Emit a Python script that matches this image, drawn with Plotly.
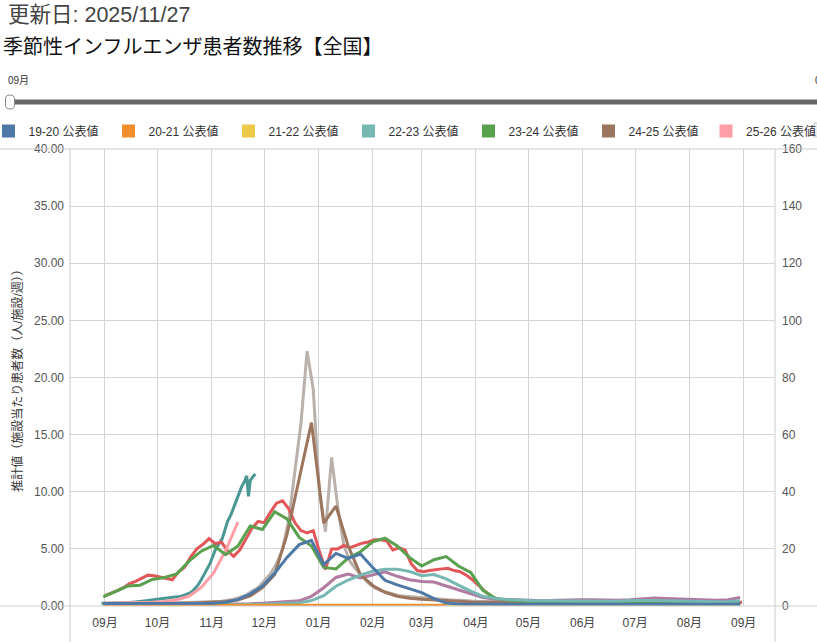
import pandas as pd
import plotly.graph_objects as go

# -- ----------------------------------------------------------------------------- textos -- #
update_text = "更新日: 2025/11/27"
title_text = "季節性インフルエンザ患者数推移【全国】"
y_title = "推計値（施設当たり患者数（人/施設/週））"
slider_label = "09月"

# -- ------------------------------------------------ 公表値 (週ごと, 右軸 0-160) -- #
names_pub = ["19-20 公表値", "20-21 公表値", "21-22 公表値", "22-23 公表値",
             "23-24 公表値", "24-25 公表値", "25-26 公表値"]
colors_pub = ["#4e79a7", "#f28e2b", "#edc948", "#76b7b2", "#59a14f", "#9c755f", "#ff9da7"]

s1920 = [0.9, 0.9, 0.9, 0.9, 1.0, 1.0, 0.9, 0.9, 0.9, 1.0,
         1.3, 2.3, 4.2, 7.0, 11.5, 17.0, 21.5, 23.0, 14.5, 18.4,
         16.7, 18.2, 13.5, 9.0, 7.4, 6.0, 4.7, 2.6, 1.0, 0.7,
         0.6, 0.6, 0.6, 0.6, 0.6, 0.6, 0.6, 0.6, 0.6, 0.6,
         0.6, 0.6, 0.6, 0.6, 0.6, 0.6, 0.6, 0.6, 0.6, 0.6,
         0.6, 0.6, 0.6]
s2021 = [0.3, 0.3, 0.35, 0.3, 0.3, 0.3, 0.3, 0.3, 0.3, 0.3,
         0.3, 0.3, 0.3, 0.3, 0.3, 0.3, 0.3, 0.3, 0.3, 0.3,
         0.3, 0.3, 0.3, 0.3, 0.3, 0.3, 0.3, 0.3, 0.3]
s2122 = [0.1, 0.1, 0.1, 0.1, 0.1, 0.1, 0.1, 0.1, 0.1, 0.1,
         0.1, 0.1, 0.1, 0.1, 0.1, 0.1, 0.1, 0.1, 0.1, 0.1,
         0.1, 0.1, 0.1, 0.1, 0.1, 0.1, 0.1, 0.1, 0.1, 0.1,
         0.1, 0.1, 0.1, 0.1, 0.1, 0.1, 0.1, 0.1, 0.1, 0.1,
         0.1, 0.1, 0.1, 0.1, 0.1, 0.1, 0.1, 0.1, 0.1, 0.1,
         0.1, 0.1, 0.1]
s2223 = [0.3, 0.3, 0.3, 0.3, 0.3, 0.3, 0.3, 0.3, 0.3, 0.35,
         0.4, 0.45, 0.5, 0.6, 0.7, 0.9, 1.1, 1.9, 3.6, 6.9,
         9.1, 10.8, 12.2, 12.9, 12.9, 12.1, 10.6, 11.0, 9.5, 7.3,
         5.2, 3.4, 2.6, 2.3, 2.0, 1.85, 1.8, 1.8, 1.7, 1.7,
         1.6, 1.6, 1.7, 1.9, 2.0, 1.9, 1.8, 1.7, 1.6, 1.5,
         1.5, 1.6, 1.8]
s2324 = [3.2, 5.0, 7.0, 7.3, 9.3, 10.0, 11.2, 15.7, 19.2, 21.2,
         18.0, 21.0, 28.0, 26.8, 33.0, 30.5, 24.0, 21.0, 13.5, 13.0,
         16.8, 19.0, 22.5, 23.8, 21.0, 17.0, 14.0, 16.2, 17.3, 14.0,
         11.8, 5.5, 2.7, 2.0, 1.7, 1.5, 1.3, 1.2, 1.1, 1.0,
         1.0, 0.9, 0.9, 0.9, 0.9, 0.9, 0.8, 0.8, 0.8, 0.8,
         0.8, 0.8, 0.8]
s2425 = [0.8, 0.8, 0.8, 0.8, 0.8, 0.8, 0.9, 1.0, 1.1, 1.3,
         1.6, 2.1, 3.5, 6.4, 11.0, 25.0, 45.0, 64.2, 29.0, 35.0,
         21.0, 11.0, 7.2, 4.8, 3.4, 2.7, 2.4, 2.1, 1.8, 1.6,
         1.4, 1.3, 1.2, 1.2, 1.1, 1.1, 1.0, 1.0, 1.0, 1.0,
         1.0, 1.0, 1.0, 1.0, 1.0, 1.0, 1.0, 1.0, 1.0, 1.0,
         1.0, 1.0, 1.0]
s2526 = [1.0, 1.0, 1.1, 1.2, 1.3, 1.6, 2.2, 3.4, 6.5, 11.5,
         19.5, 29.5]

# -- ------------------------------------------------------- 推計値 (左軸 0-40) -- #
names_est = ["22-23 推計値", "23-24 推計値", "24-25 推計値", "25-26 推計値"]
colors_est = ["#b07aa1", "#e15759", "#bab0ac", "#499894"]

# semanal
e2223 = [0.15, 0.15, 0.15, 0.15, 0.15, 0.15, 0.15, 0.15, 0.15, 0.2,
         0.2, 0.2, 0.2, 0.25, 0.3, 0.35, 0.45, 0.85, 1.6, 2.5,
         2.8, 2.45, 2.7, 3.0, 2.6, 2.3, 2.15, 2.1, 1.75, 1.4,
         1.1, 0.75, 0.6, 0.55, 0.5, 0.45, 0.45, 0.5, 0.55, 0.55,
         0.55, 0.5, 0.5, 0.55, 0.65, 0.7, 0.65, 0.6, 0.55, 0.5,
         0.5, 0.55, 0.75]
# medio semanal (cada 3.5 dias)
e2324 = [0.9, 1.1, 1.35, 1.6, 1.95, 2.15, 2.4, 2.7, 2.65, 2.55,
         2.45, 2.3, 3.0, 3.4, 4.3, 5.0, 5.4, 5.9, 5.45, 5.6,
         4.85, 4.35, 4.9, 5.8, 6.8, 7.4, 7.3, 8.2, 9.0, 9.2,
         8.5, 7.3, 6.6, 6.4, 6.6, 4.8, 3.2, 5.0, 5.0, 5.3,
         5.1, 5.3, 5.5, 5.6, 5.8, 5.8, 5.7, 4.9, 5.1, 4.9,
         3.7, 3.1, 3.0, 3.1, 3.2, 3.25, 3.3, 3.1, 3.0, 2.7,
         2.3, 1.8, 1.3, 0.9, 0.6, 0.5, 0.45, 0.42, 0.4, 0.4,
         0.38, 0.38, 0.36, 0.36, 0.35, 0.35, 0.35, 0.34, 0.34, 0.33,
         0.33, 0.33, 0.32, 0.32, 0.32, 0.32, 0.31, 0.31, 0.31, 0.31,
         0.3, 0.3, 0.3, 0.3, 0.3, 0.3, 0.3, 0.3, 0.3, 0.3,
         0.3, 0.3, 0.3, 0.3, 0.3]
e2425 = [0.2, 0.2, 0.2, 0.2, 0.2, 0.2, 0.2, 0.22, 0.22, 0.24,
         0.25, 0.27, 0.28, 0.3, 0.3, 0.32, 0.35, 0.38, 0.4, 0.42,
         0.5, 0.6, 0.75, 0.95, 1.3, 1.6, 2.2, 2.8, 3.7, 5.0,
         7.5, 11.8, 16.0, 22.3, 19.0, 10.0, 6.5, 13.0, 8.7, 5.3,
         3.9, 3.2, 2.6, 2.0, 1.6, 1.35, 1.2, 1.05, 0.9, 0.85,
         0.8, 0.75, 0.7, 0.65, 0.6, 0.6, 0.55, 0.5, 0.5, 0.45,
         0.45, 0.4, 0.4, 0.4, 0.4, 0.4, 0.38, 0.38, 0.38, 0.38,
         0.36, 0.36, 0.36, 0.36, 0.35, 0.35, 0.35, 0.35, 0.35, 0.35,
         0.35, 0.35, 0.35, 0.35, 0.35, 0.35, 0.35, 0.35, 0.35, 0.35,
         0.35, 0.35, 0.35, 0.35, 0.35, 0.35, 0.35, 0.35, 0.35, 0.35,
         0.35, 0.35, 0.35, 0.35, 0.35]
# diario (dias desde 09/01)
e2526_days = [-2, 6, 13, 20, 27, 34, 41, 44, 48, 50, 53, 55, 57, 60, 63, 65,
              67, 70, 72, 75, 78, 80, 81, 82, 83, 85, 86]
e2526 = [0.24, 0.26, 0.29, 0.4, 0.52, 0.62, 0.8, 0.88, 1.1, 1.3, 1.8, 2.3, 2.85, 3.7, 4.9, 5.4,
         5.9, 7.4, 8.0, 9.2, 10.4, 11.0, 11.4, 9.6, 11.0, 11.4, 11.55]

# -- ------------------------------------------------------------------- geometria -- #
W, H = 817, 642
PLOT_L, PLOT_R, PLOT_T, PLOT_B = 70, 775, 149, 606
FONT = "Liberation Sans, Noto Sans CJK JP, sans-serif"
GRID = "#d4d4d4"
SEASON_START = pd.Timestamp("2000-09-01")


def px_x(x):
    return (x - PLOT_L) / (PLOT_R - PLOT_L)


def px_y(y):
    return (PLOT_B - y) / (PLOT_B - PLOT_T)


def weekly(n):
    return pd.date_range(SEASON_START - pd.Timedelta(days=1), periods=n, freq="7D")


def half_weekly(n):
    return pd.date_range(SEASON_START, periods=n, freq="84h")


fig = go.Figure()

# trazos: los primeros de la leyenda quedan encima
est_series = [(e2223, weekly(len(e2223))), (e2324, half_weekly(len(e2324))),
              (e2425, half_weekly(len(e2425))),
              (e2526, SEASON_START + pd.to_timedelta(e2526_days, unit="D"))]
for (vals, dates), name, col in reversed(list(zip(est_series, names_est, colors_est))):
    fig.add_trace(go.Scatter(x=dates, y=vals, name=name, mode="lines", yaxis="y",
                             line=dict(color=col, width=3), showlegend=False))

pub_series = [s1920, s2021, s2122, s2223, s2324, s2425, s2526]
for vals, name, col in reversed(list(zip(pub_series, names_pub, colors_pub))):
    fig.add_trace(go.Scatter(x=weekly(len(vals)), y=vals, name=name, mode="lines", yaxis="y2",
                             legendgroup=name, line=dict(color=col, width=3), showlegend=False))

# leyenda con cuadros
for i, (name, col) in enumerate(zip(names_pub, colors_pub)):
    fig.add_trace(go.Scatter(x=[None], y=[None], name=name, mode="markers", legendgroup=name,
                             marker=dict(symbol="square", size=13, color=col),
                             legend="legend2" if i == 6 else "legend"))

leg = dict(orientation="h", yanchor="middle", y=px_y(131), xanchor="left",
           entrywidth=75, entrywidthmode="pixels", bgcolor="rgba(0,0,0,0)",
           font=dict(family=FONT, size=12, color="#333"))

fig.update_layout(
    width=W, height=H,
    margin=dict(l=PLOT_L, r=W - PLOT_R, t=PLOT_T, b=H - PLOT_B, pad=0, autoexpand=False),
    paper_bgcolor="white", plot_bgcolor="white",
    font=dict(family=FONT, size=12, color="#444"),
    title=dict(text=title_text, x=3 / W, xref="container", xanchor="left",
               y=1 - 47 / H, yref="container", yanchor="middle",
               font=dict(family=FONT, size=20, color="#111")),
    legend=dict(leg, x=px_x(12.5 - 20 - 4)),
    legend2=dict(leg, x=px_x(732 - 20 - 6)),
    xaxis=dict(type="date", range=["2000-08-12", "2001-09-18 22:00"],
               tick0="2000-09-01", dtick="M1", tickformat="%m月",
               showgrid=True, gridcolor=GRID, gridwidth=1, zeroline=False, showline=False,
               ticks="", ticklabelstandoff=8, tickfont=dict(size=12, color="#444")),
    yaxis=dict(range=[0, 40], dtick=5, tickformat=".2f", showgrid=True, gridcolor=GRID,
               zeroline=False, showline=False, ticks="", ticklabelstandoff=5,
               tickfont=dict(size=12, color="#555"),
               title=dict(text=y_title, standoff=8, font=dict(size=12, color="#333"))),
    yaxis2=dict(range=[0, 160], dtick=20, overlaying="y", side="right", showgrid=False,
                zeroline=False, showline=False, ticks="", ticklabelstandoff=6,
                tickfont=dict(size=12, color="#555")),
    showlegend=True,
)

# bordes tipo tabla
border = dict(color="#cccccc", width=1)
fig.add_shape(type="line", xref="paper", yref="paper", x0=px_x(0), x1=px_x(W), y0=1, y1=1, line=border)
fig.add_shape(type="line", xref="paper", yref="paper", x0=px_x(0), x1=px_x(W), y0=0, y1=0, line=border)
fig.add_shape(type="line", xref="paper", yref="paper", x0=0, x1=0, y0=1, y1=px_y(H), line=border)
fig.add_shape(type="line", xref="paper", yref="paper", x0=1, x1=1, y0=1, y1=px_y(H), line=border)

# barra del deslizador
fig.add_shape(type="line", xref="paper", yref="paper", x0=px_x(10), x1=px_x(W + 5),
              y0=px_y(102), y1=px_y(102), line=dict(color="#666666", width=5))
fig.add_shape(type="path", xref="paper", yref="paper", xsizemode="pixel", ysizemode="pixel",
              xanchor=px_x(10), yanchor=px_y(102),
              path="M -4.5,-3 L -4.5,3 Q -4.5,7 0,7 Q 4.5,7 4.5,3 L 4.5,-3 Q 4.5,-7 0,-7 Q -4.5,-7 -4.5,-3 Z",
              fillcolor="white", line=dict(color="#888888", width=1))
# cuadro gris al final de la leyenda
fig.add_shape(type="rect", xref="paper", yref="paper", x0=px_x(814), x1=px_x(W + 2),
              y0=px_y(137), y1=px_y(123), fillcolor="#eeeeee", line=dict(color="#cccccc", width=1))

fig.add_annotation(text=update_text, xref="paper", yref="paper", x=px_x(6), y=px_y(15),
                   xanchor="left", yanchor="middle", showarrow=False,
                   font=dict(family=FONT, size=21.5, color="#444"))
fig.add_annotation(text=slider_label, xref="paper", yref="paper", x=px_x(6), y=px_y(80),
                   xanchor="left", yanchor="middle", showarrow=False,
                   font=dict(family=FONT, size=10, color="#333"))
fig.add_annotation(text=slider_label, xref="paper", yref="paper", x=px_x(813), y=px_y(80),
                   xanchor="left", yanchor="middle", showarrow=False,
                   font=dict(family=FONT, size=10, color="#333"))

fig.write_html("out.html", config={"displayModeBar": False},
               post_script="document.body.style.margin='0';")
